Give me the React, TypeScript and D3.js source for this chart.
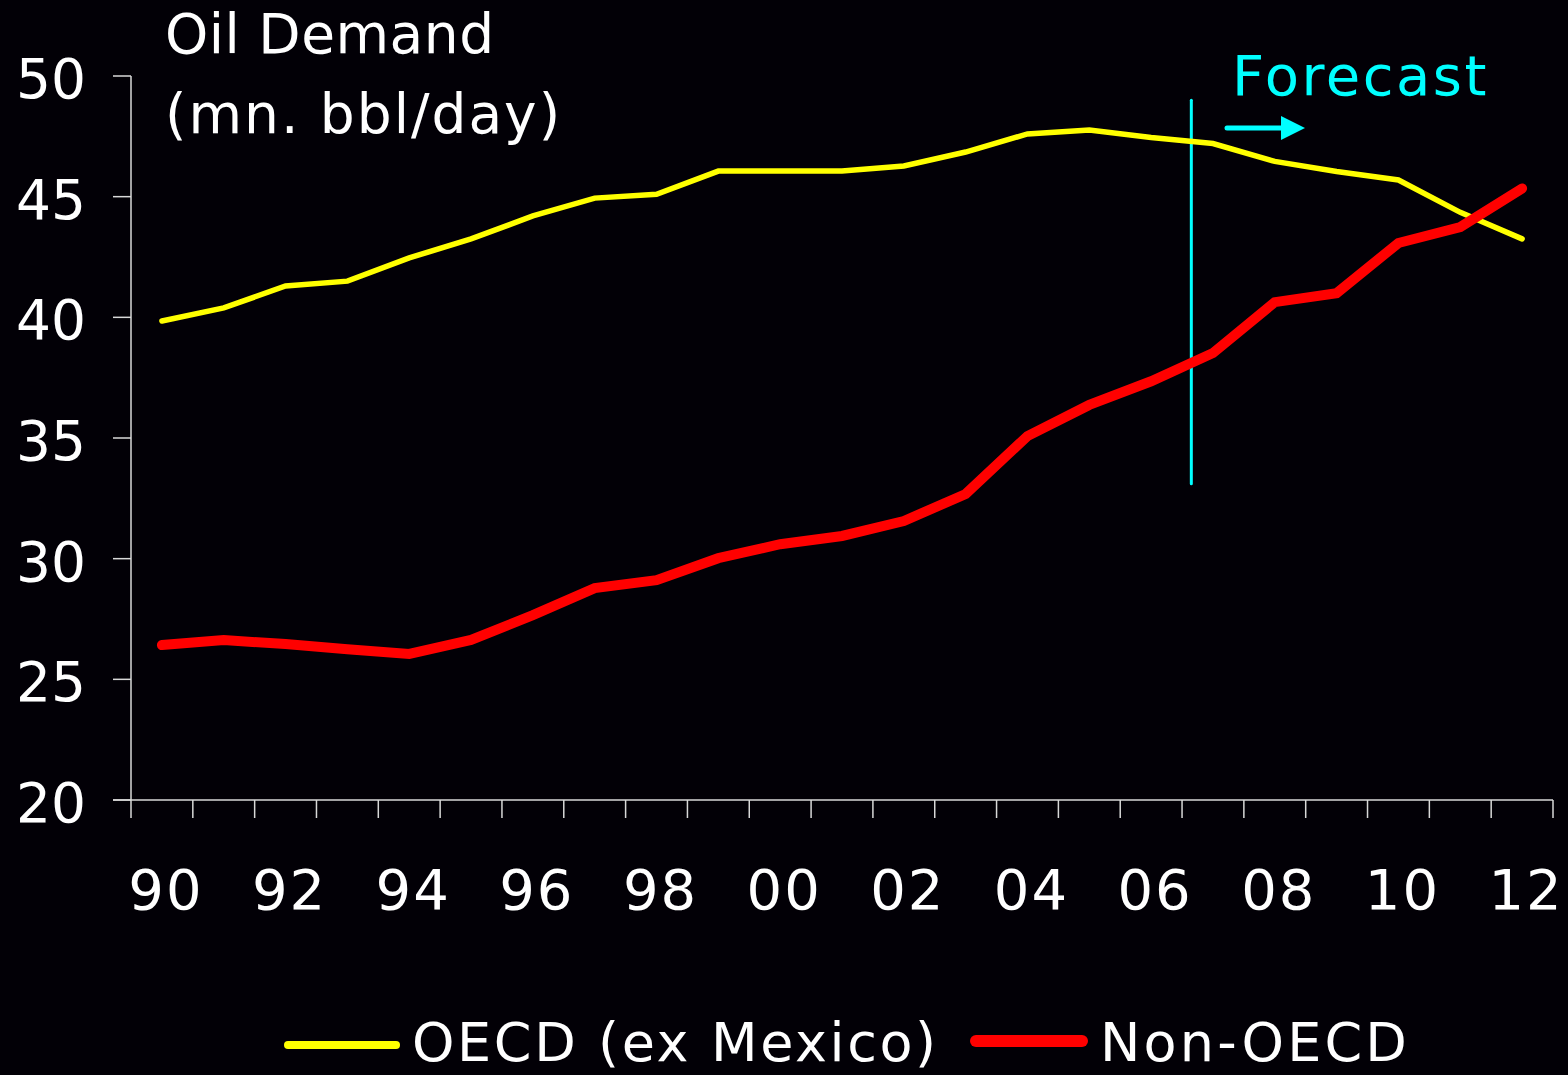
import React from "react";
import * as d3 from "d3";

const years = ["90","91","92","93","94","95","96","97","98","99","00","01","02","03","04","05","06","07","08","09","10","11","12"];
const tickLabels = ["90","92","94","96","98","00","02","04","06","08","10","12"];
const oecd = [39.85,40.39,41.3,41.5,42.46,43.25,44.2,44.94,45.1,46.06,46.06,46.06,46.27,46.85,47.6,47.76,47.45,47.2,46.46,46.04,45.69,44.35,43.25];
const nonOecd = [26.42,26.63,26.46,26.25,26.05,26.63,27.66,28.78,29.11,30.02,30.6,30.94,31.56,32.68,35.08,36.37,37.35,38.52,40.63,41.0,43.08,43.74,45.34];
const yTicks = [20,25,30,35,40,45,50];

const W = 1568, H = 1075;
const FONT = "'DejaVu Sans', sans-serif";
const AXIS = "#d8d8d8";

export default function App() {
  const x = d3.scaleBand<string>().domain(years).range([131, 1553]).padding(0);
  const bw = x.bandwidth();
  const cx = (yr: string) => (x(yr) as number) + bw / 2;
  const y = d3.scaleLinear().domain([20, 50]).range([800, 76]);
  const line = d3.line<number>().x((_, i) => cx(years[i])).y((d) => y(d));
  const forecastX = cx("06") + 0.65 * bw;

  return (
    <svg width={W} height={H} style={{ display: "block", position: "absolute", left: 0, top: 0, background: "#020006" }}>
      <rect x={0} y={0} width={W} height={H} fill="#020006" />
      {/* axes */}
      <line x1={131} x2={131} y1={y(50)} y2={y(20)} stroke={AXIS} strokeWidth={1.5} />
      <line x1={113} x2={1553} y1={y(20)} y2={y(20)} stroke={AXIS} strokeWidth={1.5} />
      {yTicks.map((t) => (
        <g key={t}>
          <line x1={113} x2={131} y1={y(t)} y2={y(t)} stroke={AXIS} strokeWidth={1.5} />
          <text x={86} y={y(t) + 22} textAnchor="end" fill="#ffffff" fontFamily={FONT} fontSize={55}>{t}</text>
        </g>
      ))}
      {years.map((yr) => (
        <line key={"t" + yr} x1={x(yr) as number} x2={x(yr) as number} y1={800} y2={818} stroke={AXIS} strokeWidth={1.5} />
      ))}
      <line x1={1553} x2={1553} y1={800} y2={818} stroke={AXIS} strokeWidth={1.5} />
      {tickLabels.map((lb) => (
        <text key={"l" + lb} x={cx(lb) + 4} y={909} textAnchor="middle" fill="#ffffff" fontFamily={FONT} fontSize={56} letterSpacing={2}>{lb}</text>
      ))}
      {/* title */}
      <text x={165} y={53} fill="#ffffff" fontFamily={FONT} fontSize={55} letterSpacing={0.5}>Oil Demand</text>
      <text x={165} y={133} fill="#ffffff" fontFamily={FONT} fontSize={55} letterSpacing={2}>(mn. bbl/day)</text>
      {/* forecast */}
      <line x1={forecastX} x2={forecastX} y1={y(49)} y2={y(33.1)} stroke="#00ffff" strokeWidth={3} strokeLinecap="round" />
      <text x={1232} y={95} fill="#00ffff" fontFamily={FONT} fontSize={56} letterSpacing={2.5}>Forecast</text>
      <line x1={1227} x2={1285} y1={128} y2={128} stroke="#00ffff" strokeWidth={5} strokeLinecap="round" />
      <path d={`M1281,116 L1305,128 L1281,140 Z`} fill="#00ffff" />
      {/* series */}
      <path d={line(oecd) || ""} fill="none" stroke="#ffff00" strokeWidth={5.5} strokeLinecap="round" strokeLinejoin="miter" />
      <path d={line(nonOecd) || ""} fill="none" stroke="#ff0000" strokeWidth={10} strokeLinecap="round" strokeLinejoin="miter" />
      {/* legend */}
      <line x1={288} x2={396} y1={1045} y2={1045} stroke="#ffff00" strokeWidth={8} strokeLinecap="round" />
      <text x={412} y={1061} fill="#ffffff" fontFamily={FONT} fontSize={54} letterSpacing={2.6}>OECD (ex Mexico)</text>
      <line x1={976} x2={1082} y1={1041} y2={1041} stroke="#ff0000" strokeWidth={12} strokeLinecap="round" />
      <text x={1100} y={1061} fill="#ffffff" fontFamily={FONT} fontSize={54} letterSpacing={3.2}>Non-OECD</text>
    </svg>
  );
}
